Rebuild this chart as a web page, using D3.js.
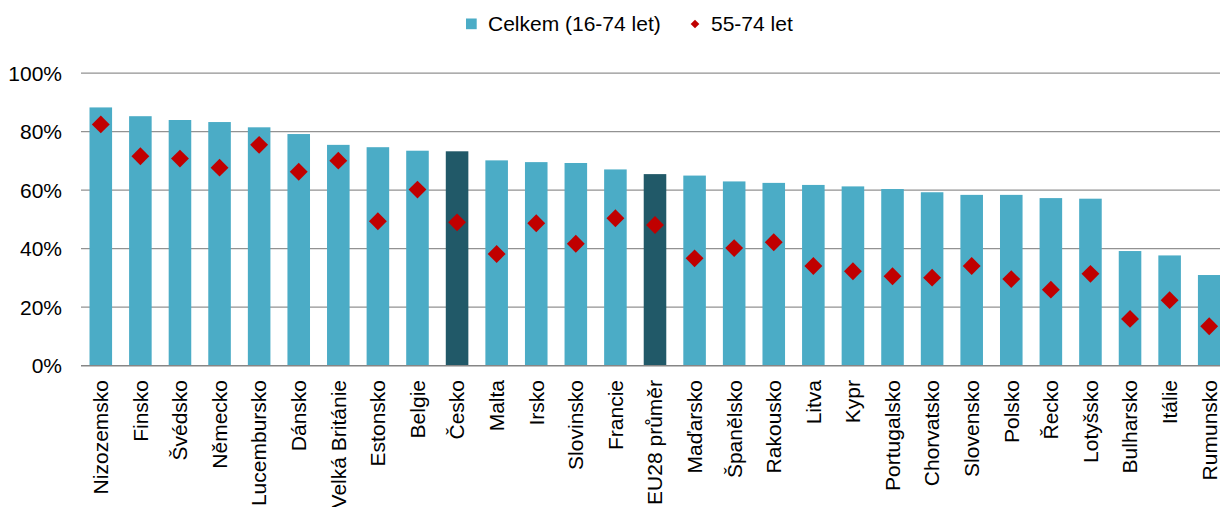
<!DOCTYPE html>
<html><head><meta charset="utf-8">
<script src="https://cdn.jsdelivr.net/npm/d3@7"></script>
<style>body{margin:0;background:#fff;overflow:hidden}svg{display:block;font-family:"Liberation Sans",Arial,sans-serif}</style>
</head><body><svg id="c" width="1220" height="507"></svg>
<script>
const categories = ["Nizozemsko","Finsko","Švédsko","Německo","Lucembursko","Dánsko","Velká Británie","Estonsko","Belgie","Česko","Malta","Irsko","Slovinsko","Francie","EU28 průměr","Maďarsko","Španělsko","Rakousko","Litva","Kypr","Portugalsko","Chorvatsko","Slovensko","Polsko","Řecko","Lotyšsko","Bulharsko","Itálie","Rumunsko"];
const total = [88.3,85.3,84.0,83.3,81.5,79.2,75.5,74.7,73.5,73.3,70.2,69.6,69.3,67.1,65.5,65.0,63.0,62.5,61.8,61.3,60.4,59.3,58.4,58.4,57.3,57.1,39.2,37.7,31.0];
const older = [82.5,71.6,70.8,67.7,75.5,66.3,70.1,49.4,60.2,49.0,38.2,48.7,41.7,50.4,48.1,36.7,40.2,42.2,34.1,32.3,30.6,30.1,34.1,29.6,26.0,31.4,16.0,22.4,13.5];
const highlighted = ["Česko","EU28 průměr"];
const yTicks = [0,20,40,60,80,100];
const seriesNames = ["Celkem (16-74 let)","55-74 let"];

const svg = d3.select("#c");
const pLeft = 81, pRight = 1229, pTop = 73.2, pBottom = 365.7;
const FS = 21;
const x = d3.scaleBand().domain(categories).range([pLeft, pRight]).paddingInner(0.43).paddingOuter(0.215);
const y = d3.scaleLinear().domain([0,100]).range([pBottom, pTop]);

// gridlines
svg.append("g").selectAll("line").data(yTicks.filter(d=>d>0)).join("line")
  .attr("x1", pLeft).attr("x2", 1220).attr("y1", d=>y(d)).attr("y2", d=>y(d))
  .attr("stroke", "#929292").attr("stroke-width", 1.2);

// y labels
svg.append("g").selectAll("text").data(yTicks).join("text")
  .attr("x", 62).attr("y", d=>y(d)).attr("dy","0.35em").attr("text-anchor","end")
  .attr("font-size", FS).attr("fill","#000").text(d=>d+"%");

// bars
svg.append("g").selectAll("rect").data(categories).join("rect")
  .attr("x", d=>x(d)).attr("width", x.bandwidth())
  .attr("y", (d,i)=>y(total[i])).attr("height", (d,i)=>y(0)-y(total[i]))
  .attr("fill", d=>highlighted.includes(d) ? "#215968" : "#4BACC6");

// axis line
svg.append("line").attr("x1", pLeft).attr("x2", 1220).attr("y1", y(0)).attr("y2", y(0))
  .attr("stroke","#868686").attr("stroke-width",1.6);

// diamonds
const sym = d3.symbol().type(d3.symbolSquare).size(160);
svg.append("g").selectAll("path").data(categories).join("path")
  .attr("d", sym)
  .attr("transform", (d,i)=>`translate(${x(d)+x.bandwidth()/2},${y(older[i])}) rotate(45)`)
  .attr("fill","#C00000");

// x labels
svg.append("g").selectAll("text").data(categories).join("text")
  .attr("transform", d=>`translate(${x(d)+x.bandwidth()/2},380) rotate(-90)`)
  .attr("dy","0.35em").attr("text-anchor","end").attr("font-size",FS).attr("fill","#000")
  .text(d=>d);

// legend
const lg = svg.append("g");
lg.append("rect").attr("x",466).attr("y",18.5).attr("width",10.7).attr("height",10.7).attr("fill","#4BACC6");
lg.append("text").attr("x",488).attr("y",24).attr("dy","0.35em").attr("font-size",FS).text(seriesNames[0]);
lg.append("path").attr("d", d3.symbol().type(d3.symbolSquare).size(38)).attr("transform","translate(695,24) rotate(45)").attr("fill","#C00000");
lg.append("text").attr("x",711).attr("y",24).attr("dy","0.35em").attr("font-size",FS).text(seriesNames[1]);
</script></body></html>
